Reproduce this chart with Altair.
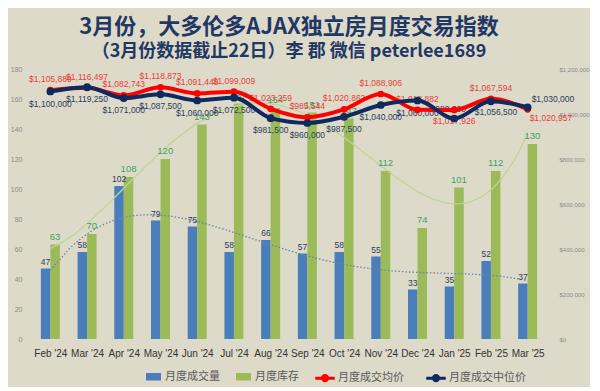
import json
import pandas as pd
import altair as alt

months = ["Feb '24", "Mar '24", "Apr '24", "May '24", "Jun '24", "Jul '24", "Aug '24",
          "Sep '24", "Oct '24", "Nov '24", "Dec '24", "Jan '25", "Feb '25", "Mar '25"]
sales = [47, 58, 102, 79, 75, 58, 66, 57, 58, 55, 33, 35, 52, 37]
inventory = [63, 70, 108, 120, 143, 157, 154, 151, 147, 112, 74, 101, 112, 130]
avg_price = [1105889, 1116497, 1082743, 1118873, 1091448, 1099009, 1023259,
             985544, 1020862, 1088906, 1018882, 1017926, 1067594, 1020957]
median_price = [1100000, 1119250, 1071000, 1087500, 1060000, 1072500, 981500,
                960000, 987500, 1040000, 1060000, 980000, 1056500, 1030000]

S_SALES = "月度成交量"
S_INV = "月度库存"
S_AVG = "月度成交均价"
S_MED = "月度成交中位价"

df = pd.DataFrame({
    "idx": list(range(len(months))),
    "month": months,
    S_SALES: sales,
    S_INV: inventory,
    S_AVG: avg_price,
    S_MED: median_price,
})

BLUE = "#4a7ebb"
GREEN = "#9bbb59"
RED = "#ff0000"
NAVY = "#0f2a5e"
RED_TXT = "#e8403a"
NAVY_TXT = "#2a3d5e"
GREEN_TXT = "#3aa561"
NUM_FONT = "Liberation Sans"
CJK = "Noto Sans CJK SC"

label_expr = "[" + ",".join(json.dumps(m) for m in months) + "][datum.value]"
x_scale = alt.Scale(domain=[-0.5, 13.5], nice=False, zero=False)
x_axis = alt.Axis(values=list(range(len(months))), labelExpr=label_expr, title=None,
                  domain=False, ticks=False, grid=False, labelFontSize=10,
                  labelColor="#333333", labelPadding=9, labelFont=NUM_FONT)
X = alt.X("idx:Q", scale=x_scale, axis=x_axis)

yl_scale = alt.Scale(domain=[0, 180], nice=False)
yl_axis = alt.Axis(values=list(range(0, 181, 20)), title=None, domain=False, ticks=False,
                   grid=False, labelFontSize=7, labelColor="#8a8a8a", labelPadding=5,
                   labelFont=NUM_FONT)
yr_scale = alt.Scale(domain=[0, 1200000], nice=False)
yr_axis = alt.Axis(orient="right", values=list(range(0, 1200001, 200000)), format="$,.0f",
                   title=None, domain=False, ticks=False, grid=False, labelFontSize=6,
                   labelColor="#8a8a8a", labelPadding=8, labelFont=NUM_FONT)

fill_scale = alt.Scale(domain=[S_SALES, S_INV], range=[BLUE, GREEN])
fill_legend = alt.Legend(title=None, orient="none", legendX=119, legendY=300,
                         direction="horizontal", symbolType="M-1,-0.5H1V0.5H-1Z",
                         symbolSize=225, symbolStrokeWidth=0, labelFont=CJK,
                         labelFontSize=11, labelColor="#595959", columnPadding=16)
stroke_scale = alt.Scale(domain=[S_AVG, S_MED], range=[RED, NAVY])
stroke_legend = alt.Legend(title=None, orient="none", legendX=289, legendY=300,
                           direction="horizontal",
                           symbolType="M-1.3,0H1.3M0.35,0A0.35,0.35,0,1,1,-0.35,0A0.35,0.35,0,1,1,0.35,0",
                           symbolSize=225, symbolStrokeWidth=3, labelFont=CJK,
                           labelFontSize=11, labelColor="#595959", columnPadding=16)

base = alt.Chart()

def bar_layer(series, offset):
    return base.transform_fold([series], as_=["series", "value"]).mark_bar(
        size=9.5, xOffset=offset).encode(
        x=X,
        y=alt.Y("value:Q", scale=yl_scale, axis=yl_axis),
        fill=alt.Fill("series:N", scale=fill_scale, legend=fill_legend),
    )

blue_bars = bar_layer(S_SALES, -4.75)
green_bars = bar_layer(S_INV, 4.75)

trend_inv = base.transform_regression("idx", S_INV, method="poly", order=4).mark_line(
    color="#bcd494", strokeWidth=1.3, clip=True).encode(
    x=X, y=alt.Y(S_INV + ":Q", scale=yl_scale, axis=yl_axis))
trend_sales = base.transform_regression("idx", S_SALES, method="poly", order=4).mark_line(
    color="#6a84a0", strokeWidth=1.3, strokeDash=[1.5, 2], clip=True).encode(
    x=X, y=alt.Y(S_SALES + ":Q", scale=yl_scale, axis=yl_axis))

sales_text = base.mark_text(xOffset=-4.75, dy=-7, font=NUM_FONT, fontSize=8.5,
                            color=NAVY_TXT).encode(
    x=X, y=alt.Y(S_SALES + ":Q", scale=yl_scale, axis=yl_axis), text=S_SALES + ":Q")
inv_text = base.mark_text(xOffset=4.75, dy=-8, font=NUM_FONT, fontSize=9.5,
                          color=GREEN_TXT).encode(
    x=X, y=alt.Y(S_INV + ":Q", scale=yl_scale, axis=yl_axis), text=S_INV + ":Q")

left = alt.layer(blue_bars, green_bars, trend_inv, trend_sales, sales_text, inv_text)

def price_text(series, color, flt, **kw):
    return base.transform_filter(flt).mark_text(font=NUM_FONT, fontSize=8.5, color=color,
                                                **kw).encode(
        x=X, y=alt.Y(series + ":Q", scale=yr_scale, axis=yr_axis),
        text=alt.Text(series + ":Q", format="$,.0f"))

avg_t1 = price_text(S_AVG, RED_TXT, "datum.idx != 11 && datum.idx != 13", dy=-11)
avg_t2 = price_text(S_AVG, RED_TXT, "datum.idx == 11", dy=11)
avg_t3 = price_text(S_AVG, RED_TXT, "datum.idx == 13", dy=9, dx=2, align="left")
med_t1 = price_text(S_MED, NAVY_TXT, "datum.idx != 11 && datum.idx != 13 && datum.idx != 12", dy=12)
med_t2 = price_text(S_MED, NAVY_TXT, "datum.idx == 11", dy=-10, dx=-6)
med_t3 = price_text(S_MED, NAVY_TXT, "datum.idx == 12", dy=11, dx=5)
med_t4 = price_text(S_MED, NAVY_TXT, "datum.idx == 13", dy=-8, dx=4, align="left")

def price_line(series):
    return base.transform_fold([series], as_=["series", "price"]).mark_line(
        strokeWidth=4, interpolate="monotone").encode(
        x=X, y=alt.Y("price:Q", scale=yr_scale, axis=yr_axis),
        stroke=alt.Stroke("series:N", scale=stroke_scale, legend=stroke_legend))

def price_pts(series, color, size):
    return base.mark_circle(size=size, opacity=1, color=color).encode(
        x=X, y=alt.Y(series + ":Q", scale=yr_scale, axis=yr_axis))

right = alt.layer(avg_t1, avg_t2, avg_t3, med_t1, med_t2, med_t3, med_t4,
                  price_line(S_AVG), price_pts(S_AVG, RED, 45),
                  price_line(S_MED), price_pts(S_MED, NAVY, 60))

chart = alt.layer(left, right, data=df).resolve_scale(y="independent").properties(
    width=524, height=270,
    title=alt.TitleParams(
        text="3月份，大多伦多AJAX独立房月度交易指数",
        subtitle="（3月份数据截止22日）李 郡 微信 peterlee1689",
        anchor="middle", frame="group", font=CJK, fontSize=22, fontWeight="bold",
        color="#1f3864", subtitleFont=CJK, subtitleFontSize=18,
        subtitleFontWeight="bold", subtitleColor="#1f3864", subtitlePadding=4,
        offset=3),
).configure(
    background="#dedac9",
    padding={"left": 2, "top": 8, "right": 0, "bottom": 0},
).configure_view(strokeWidth=0)

chart.save("out.html", embed_options={"renderer": "svg", "actions": False})
